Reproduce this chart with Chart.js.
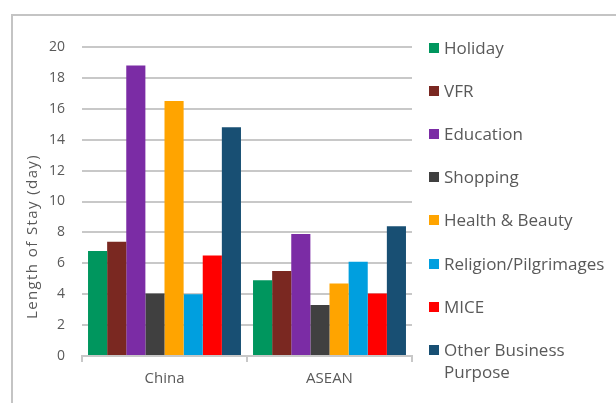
<!DOCTYPE html>
<html>
<head>
<meta charset="utf-8">
<title>Length of Stay by Purpose</title>
<script src="https://cdn.jsdelivr.net/npm/chart.js@4.4.1/dist/chart.umd.min.js"></script>
<style>
  html, body { margin: 0; padding: 0; background: #fff; overflow: hidden; }
  body { width: 616px; height: 403px; position: relative; font-family: "Open Sans", sans-serif; }
  .frame {
    position: absolute; left: 11px; top: 14px; width: 640px; height: 420px;
    border: 2px solid #c4c4c4; box-sizing: border-box;
  }
  .chart-box { position: absolute; left: 0; top: 0; width: 616px; height: 403px; }
  #legend { position: absolute; left: 429px; top: 0; }
  .legend-item {
    position: absolute; left: 0; display: flex; align-items: flex-start;
    font-size: 17px; line-height: 22px; color: #595959; white-space: nowrap;
  }
  .legend-item .swatch { width: 10px; height: 10px; margin: 6px 5px 0 0; flex: none; }
</style>
</head>
<body>
<div class="frame"></div>
<div class="chart-box"><canvas id="stayChart" width="616" height="403"></canvas></div>
<div id="legend"></div>

<script>
// Average length of stay (days) by purpose of visit
const regions = ['China', 'ASEAN'];

const holiday = [6.8, 4.9];
const vfr = [7.4, 5.5];
const education = [18.8, 7.9];
const shopping = [4.05, 3.3];
const healthBeauty = [16.5, 4.7];
const religion = [4.0, 6.1];
const mice = [6.5, 4.05];
const otherBusiness = [14.8, 8.4];

const purposeNames = ['Holiday', 'VFR', 'Education', 'Shopping', 'Health & Beauty',
  'Religion/Pilgrimages', 'MICE', 'Other Business Purpose'];
const purposeValues = [holiday, vfr, education, shopping, healthBeauty, religion, mice, otherBusiness];
const purposeColors = ['#00965e', '#7a2821', '#7b2ca5', '#404040', '#ffa400', '#009fdf', '#ff0000', '#184f73'];

const yTicks = { min: 0, max: 20, step: 2 };
const yTitle = 'Length of Stay (day)';

const textColor = '#595959';
const gridColor = '#c8c8c8';

// Vertical axis title, drawn slightly below the plot centre
const yTitlePlugin = {
  id: 'yTitle',
  afterDraw(chart) {
    const { ctx, chartArea } = chart;
    ctx.save();
    ctx.font = '15px "Open Sans"';
    ctx.fillStyle = textColor;
    ctx.letterSpacing = '1.4px';
    ctx.textAlign = 'center';
    ctx.textBaseline = 'middle';
    ctx.translate(33, (chartArea.top + chartArea.bottom) / 2 + 35);
    ctx.rotate(-Math.PI / 2);
    ctx.fillText(yTitle, 0, 0);
    ctx.restore();
  }
};

const chart = new Chart(document.getElementById('stayChart'), {
  type: 'bar',
  data: {
    labels: regions,
    datasets: purposeNames.map((name, i) => ({
      label: name,
      data: purposeValues[i],
      backgroundColor: purposeColors[i],
      borderWidth: 0,
      categoryPercentage: 0.927,
      barPercentage: 1.0
    }))
  },
  options: {
    responsive: false,
    animation: false,
    devicePixelRatio: 1,
    layout: { padding: { left: 20, top: 47, right: 204, bottom: 0 } },
    plugins: {
      legend: { display: false },
      tooltip: { enabled: false }
    },
    scales: {
      x: {
        afterFit(scale) { scale.height = 47; },
        grid: {
          display: true,
          offset: true,
          drawOnChartArea: false,
          drawTicks: true,
          tickLength: 6,
          color: gridColor,
          lineWidth: 2
        },
        border: { display: true, color: gridColor, width: 2 },
        ticks: {
          color: textColor,
          padding: 8,
          font: { family: 'Open Sans', size: 15 }
        }
      },
      y: {
        min: yTicks.min,
        max: yTicks.max,
        afterFit(scale) { scale.width = 62; },
        grid: {
          color: gridColor,
          lineWidth: 2,
          drawTicks: false
        },
        border: { display: false },
        ticks: {
          stepSize: yTicks.step,
          color: textColor,
          padding: 17,
          font: { family: 'Open Sans', size: 14 }
        }
      }
    }
  },
  plugins: [yTitlePlugin]
});

// Legend built from the chart's datasets
const legendEl = document.getElementById('legend');
const legendTop = 37;
const legendStep = 43.1;
chart.data.datasets.forEach((ds, i) => {
  const item = document.createElement('div');
  item.className = 'legend-item';
  item.style.top = (legendTop + i * legendStep) + 'px';
  const swatch = document.createElement('span');
  swatch.className = 'swatch';
  swatch.style.background = ds.backgroundColor;
  const label = document.createElement('span');
  if (ds.label === 'Other Business Purpose') {
    label.innerHTML = 'Other Business<br>Purpose';
  } else {
    label.textContent = ds.label;
  }
  item.appendChild(swatch);
  item.appendChild(label);
  legendEl.appendChild(item);
});
</script>
</body>
</html>
